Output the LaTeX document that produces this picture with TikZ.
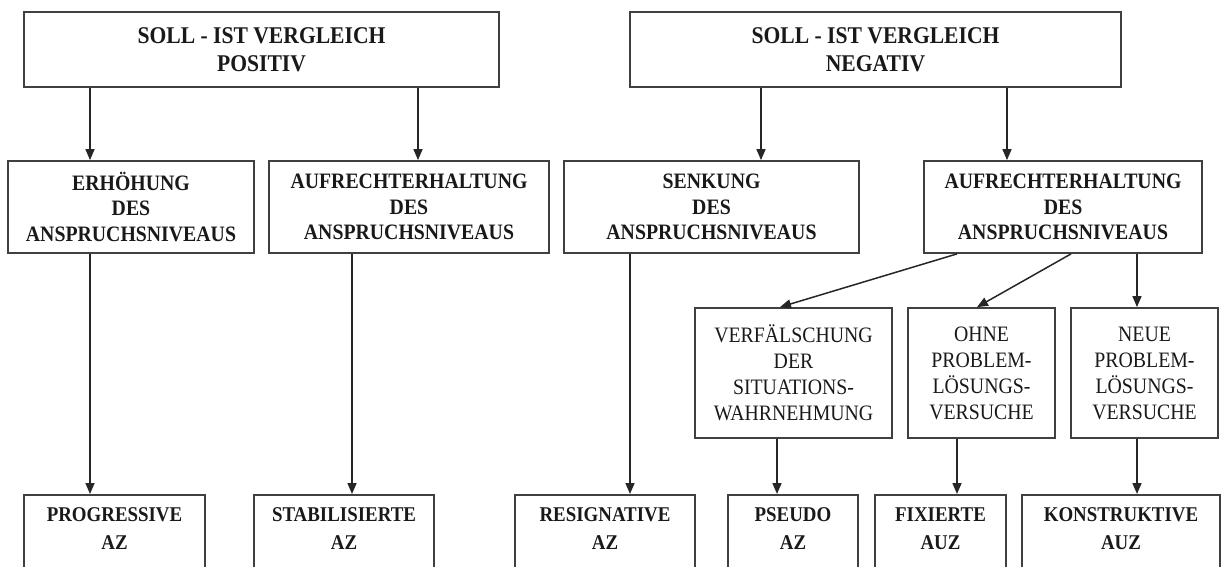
\documentclass[tikz,border=0pt]{standalone}
\usepackage{fontspec}
\setmainfont[FakeStretch=0.9]{Liberation Serif}
\usepackage{tikz}
\usetikzlibrary{arrows.meta}
\tikzstyle{basebox} = [draw=black!75, line width=1.8pt, rectangle, align=center, inner sep=0pt, text=black!90]
\tikzstyle{headbox} = [basebox, minimum height=75pt, font=\fontsize{24}{28.5}\selectfont\bfseries]
\tikzstyle{levelbox} = [basebox, minimum height=92pt, font=\fontsize{22}{25.5}\selectfont\bfseries]
\tikzstyle{waybox} = [basebox, minimum height=130pt, font=\fontsize{22}{26}\selectfont]
\tikzstyle{azbox} = [basebox, anchor=north, inner ysep=13pt, text depth=40pt, font=\fontsize{21}{28}\selectfont\bfseries]
\tikzstyle{arr} = [draw=black!85, line width=1.5pt, -{Triangle[length=11pt,width=9pt]}]

\begin{document}
\begin{tikzpicture}[x=1pt,y=-1pt]
\useasboundingbox (0,0) rectangle (1221,566);
\clip (0,0) rectangle (1221,566);

\node[headbox, minimum width=475pt] (pos) at (261.5,49.5) {SOLL - IST VERGLEICH\\POSITIV};
\node[headbox, minimum width=491pt] (neg) at (875.5,49.5) {SOLL - IST VERGLEICH\\NEGATIV};

\node[levelbox, minimum width=246pt] (erh) at (131,207) {ERHÖHUNG\\DES\\ANSPRUCHSNIVEAUS};
\node[levelbox, minimum width=280pt] (aufp) at (409,207) {AUFRECHTERHALTUNG\\DES\\ANSPRUCHSNIVEAUS};
\node[levelbox, minimum width=295pt] (senk) at (711.5,207) {SENKUNG\\DES\\ANSPRUCHSNIVEAUS};
\node[levelbox, minimum width=278pt] (aufn) at (1063,207) {AUFRECHTERHALTUNG\\DES\\ANSPRUCHSNIVEAUS};

\node[waybox, minimum width=197pt] (verf) at (793.5,373) {VERFÄLSCHUNG\\DER\\SITUATIONS-\\WAHRNEHMUNG};
\node[waybox, minimum width=147pt] (ohne) at (981.5,373) {OHNE\\PROBLEM-\\LÖSUNGS-\\VERSUCHE};
\node[waybox, minimum width=147pt] (neue) at (1144.5,373) {NEUE\\PROBLEM-\\LÖSUNGS-\\VERSUCHE};

\node[azbox, minimum width=181pt] (prog) at (114.5,494) {PROGRESSIVE\\AZ};
\node[azbox, minimum width=180pt] (stab) at (344,494) {STABILISIERTE\\AZ};
\node[azbox, minimum width=180pt] (resi) at (605,494) {RESIGNATIVE\\AZ};
\node[azbox, minimum width=130pt] (pseu) at (793,494) {PSEUDO\\AZ};
\node[azbox, minimum width=131pt] (fix) at (940.5,494) {FIXIERTE\\AUZ};
\node[azbox, minimum width=198pt] (kons) at (1121,494) {KONSTRUKTIVE\\AUZ};

\draw[arr] (pos.south -| 90,0) -- (erh.north -| 90,0);
\draw[arr] (pos.south -| 418,0) -- (aufp.north -| 418,0);
\draw[arr] (neg.south -| 761,0) -- (senk.north -| 761,0);
\draw[arr] (neg.south -| 1007,0) -- (aufn.north -| 1007,0);

\draw[arr] (erh.south -| 90,0) -- (prog.north -| 90,0);
\draw[arr] (aufp.south -| 352,0) -- (stab.north -| 352,0);
\draw[arr] (senk.south -| 630,0) -- (resi.north -| 630,0);

\draw[arr] (aufn.south -| 957,0) -- (verf.north -| 780,0);
\draw[arr] (aufn.south -| 1071,0) -- (ohne.north -| 977,0);
\draw[arr] (aufn.south -| 1137,0) -- (neue.north -| 1137,0);

\draw[arr] (verf.south -| 777,0) -- (pseu.north -| 777,0);
\draw[arr] (ohne.south -| 957,0) -- (fix.north -| 957,0);
\draw[arr] (neue.south -| 1137,0) -- (kons.north -| 1137,0);
\end{tikzpicture}
\end{document}
